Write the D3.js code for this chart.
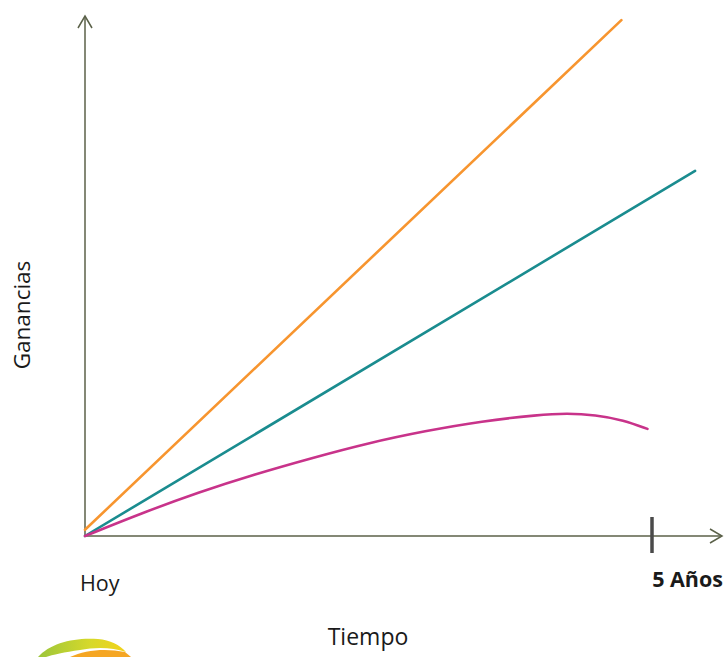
<!DOCTYPE html>
<html>
<head>
<meta charset="utf-8">
<script src="https://cdn.jsdelivr.net/npm/d3@7"></script>
<style>
  html, body { margin: 0; padding: 0; background: #fff; }
  svg { display: block; }
  text { font-family: "Open Sans", "DejaVu Sans", sans-serif; fill: #1a1a1a; }
</style>
</head>
<body>
<svg id="chart" width="726" height="657"></svg>
<script>
// Years on x, relative earnings on y (0..100 = axis arrow tip)
const years = [0, 5];
const orangeX = [0, 4.73];
const orangeY = [1.2, 99.2];
const tealX = [0, 5.38];
const tealY = [0, 70.2];
const magentaX = [0, 0.5, 1.0, 1.5, 2.0, 2.5, 3.0, 3.5, 4.0, 4.25, 4.5, 4.75, 4.96];
const magentaY = [0, 4.4, 8.4, 11.9, 15.0, 17.9, 20.2, 22.1, 23.3, 23.6, 23.3, 22.3, 20.6];
const xLabels = ["Hoy", "5 Años"];
const xTitle = "Tiempo";
const yTitle = "Ganancias";

const svg = d3.select("#chart");
const x = d3.scaleLinear().domain([0, 5]).range([85, 652]);
const y = d3.scaleLinear().domain([0, 100]).range([536, 16]);

const axisColor = "#5b6149";

// Y axis line with arrow
svg.append("line").attr("x1", x(0)).attr("x2", x(0)).attr("y1", y(0) + 1).attr("y2", y(100))
  .attr("stroke", axisColor).attr("stroke-width", 1.5);
svg.append("path")
  .attr("d", `M${x(0) - 7},${y(100) + 12} L${x(0)},${y(100)} L${x(0) + 7},${y(100) + 12}`)
  .attr("fill", "none").attr("stroke", axisColor).attr("stroke-width", 1.5);

// X axis line with arrow
const xEnd = 722;
svg.append("line").attr("x1", x(0) - 1).attr("x2", xEnd).attr("y1", y(0)).attr("y2", y(0))
  .attr("stroke", axisColor).attr("stroke-width", 1.5);
svg.append("path")
  .attr("d", `M${xEnd - 12},${y(0) - 7} L${xEnd},${y(0)} L${xEnd - 12},${y(0) + 7}`)
  .attr("fill", "none").attr("stroke", axisColor).attr("stroke-width", 1.5);

// Tick at 5 years
svg.append("line").attr("x1", x(5)).attr("x2", x(5)).attr("y1", y(0) - 19).attr("y2", y(0) + 17)
  .attr("stroke", "#4a4a4a").attr("stroke-width", 3.5);

const line = d3.line().x(d => x(d[0])).y(d => y(d[1]));
const curve = d3.line().x(d => x(d[0])).y(d => y(d[1])).curve(d3.curveBasis);

svg.append("path").datum(d3.zip(orangeX, orangeY)).attr("d", line)
  .attr("fill", "none").attr("stroke", "#f7952f").attr("stroke-width", 2.6).attr("stroke-linecap", "round");
svg.append("path").datum(d3.zip(tealX, tealY)).attr("d", line)
  .attr("fill", "none").attr("stroke", "#1a8c8f").attr("stroke-width", 2.6).attr("stroke-linecap", "round");
svg.append("path").datum(d3.zip(magentaX, magentaY)).attr("d", curve)
  .attr("fill", "none").attr("stroke", "#c8338a").attr("stroke-width", 2.6).attr("stroke-linecap", "round");

// Labels
svg.append("text").attr("x", 80).attr("y", 591).attr("font-size", 21.5).text(xLabels[0]);
svg.append("text").attr("x", 723).attr("y", 587).attr("text-anchor", "end")
  .attr("font-size", 21.5).attr("font-weight", "bold").text(xLabels[1]);
svg.append("text").attr("x", 368).attr("y", 645).attr("text-anchor", "middle")
  .attr("font-size", 23).text(xTitle);
svg.append("text").attr("transform", "translate(30,315) rotate(-90)").attr("text-anchor", "middle")
  .attr("font-size", 22.5).text(yTitle);

// Partial logo at bottom-left
const defs = svg.append("defs");
const g1 = defs.append("linearGradient").attr("id", "lg1").attr("x1", "0").attr("x2", "1");
g1.append("stop").attr("offset", "0").attr("stop-color", "#9cc63b");
g1.append("stop").attr("offset", "0.6").attr("stop-color", "#d7d92a");
g1.append("stop").attr("offset", "1").attr("stop-color", "#f2d21a");
svg.append("path")
  .attr("d", "M38,657 C50,643 75,637 98,639 C110,640 120,645 126,652 C112,647 95,647 80,650 C65,652 52,655 46,657 Z")
  .attr("fill", "url(#lg1)");
svg.append("path")
  .attr("d", "M70,657 C85,650 105,648 125,652 L131,657 Z")
  .attr("fill", "#f5a623");
</script>
</body>
</html>
